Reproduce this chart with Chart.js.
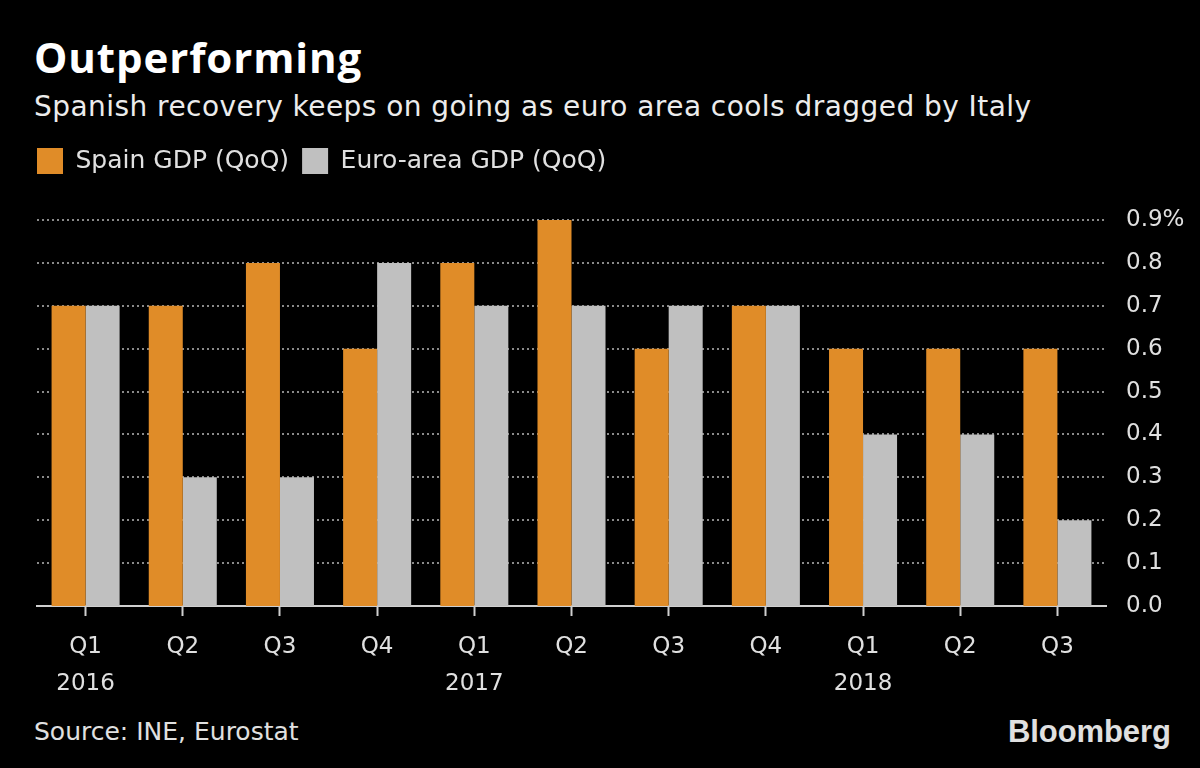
<!DOCTYPE html>
<html>
<head>
<meta charset="utf-8">
<script src="https://cdn.jsdelivr.net/npm/chart.js@4/dist/chart.umd.min.js"></script>
<style>
  html, body { margin: 0; padding: 0; background: #000; }
  body { width: 1200px; height: 768px; position: relative; overflow: hidden; font-family: "DejaVu Sans", sans-serif; color: #e6e6e6; }
  #title { position: absolute; left: 34px; top: 28px; font-family: "Open Sans", sans-serif; font-size: 42px; font-weight: 700; color: #fff; letter-spacing: 0.9px; }
  #subtitle { position: absolute; left: 34px; top: 90px; font-size: 28px; letter-spacing: 0.45px; color: #ececec; }
  #source { position: absolute; left: 34px; top: 717px; font-size: 25px; color: #e0e0e0; }
  #logo { position: absolute; left: 1008px; top: 714px; font-family: "Liberation Sans", Arial, sans-serif; font-weight: 700; font-size: 31px; letter-spacing: -0.1px; color: #e0e0e0; }
  #chartBox { position: absolute; left: 0; top: 0; width: 1200px; height: 768px; }
</style>
</head>
<body>
<div id="title">Outperforming</div>
<div id="subtitle">Spanish recovery keeps on going as euro area cools dragged by Italy</div>
<div id="source">Source: INE, Eurostat</div>
<div id="logo">Bloomberg</div>
<div id="chartBox"><canvas id="myChart" width="1200" height="768"></canvas></div>
<script>
const quarters = ['Q1', 'Q2', 'Q3', 'Q4', 'Q1', 'Q2', 'Q3', 'Q4', 'Q1', 'Q2', 'Q3'];
const years = ['2016', '', '', '', '2017', '', '', '', '2018', '', ''];
const spainGdp = [0.7, 0.7, 0.8, 0.6, 0.8, 0.9, 0.6, 0.7, 0.6, 0.6, 0.6];
const euroGdp = [0.7, 0.3, 0.3, 0.8, 0.7, 0.7, 0.7, 0.7, 0.4, 0.4, 0.2];
const yTicks = [0, 0.1, 0.2, 0.3, 0.4, 0.5, 0.6, 0.7, 0.8, 0.9];

const labels = quarters.map((q, i) => years[i] ? [q, years[i]] : [q]);

// Stretch the legend box so the plot starts lower, like the original
const legendSpacer = {
    id: 'legendSpacer',
    beforeUpdate(chart) {
        const lg = chart.legend;
        if (lg && !lg._spaced) {
            const fit = lg.fit;
            lg.fit = function () {
                fit.call(this);
                this.height = 85;
            };
            lg._spaced = true;
        }
    }
};

const ctx = document.getElementById('myChart').getContext('2d');

const myChart = new Chart(ctx, {
    type: 'bar',
    data: {
        labels: labels,
        datasets: [{
            label: 'Spain GDP (QoQ)',
            data: spainGdp,
            backgroundColor: '#e08c28'
        }, {
            label: 'Euro-area GDP (QoQ)',
            data: euroGdp,
            backgroundColor: '#c0c0c0'
        }]
    },
    plugins: [legendSpacer],
    options: {
        responsive: false,
        animation: false,
        layout: {
            padding: { left: 24, right: 0, top: 135, bottom: 0 }
        },
        datasets: {
            bar: { categoryPercentage: 0.7, barPercentage: 1.0 }
        },
        plugins: {
            legend: {
                display: true,
                align: 'start',
                labels: {
                    color: '#e0e0e0',
                    font: { family: 'DejaVu Sans', size: 25 },
                    boxWidth: 26,
                    boxHeight: 26,
                    padding: 13
                }
            },
            tooltip: { enabled: false }
        },
        scales: {
            x: {
                grid: {
                    offset: false,
                    drawOnChartArea: false,
                    drawTicks: true,
                    tickLength: 10,
                    tickColor: '#cfcfcf',
                    tickWidth: 2
                },
                border: { display: true, color: '#cfcfcf', width: 2 },
                ticks: {
                    color: '#e0e0e0',
                    font: { family: 'DejaVu Sans', size: 23, lineHeight: 1.6 },
                    padding: 13,
                    maxRotation: 0,
                    autoSkip: false
                },
                afterFit: (scale) => { scale.height = 162; }
            },
            // empty axis on the left, only to hold the plot 13px in from the legend edge
            gutter: {
                type: 'linear',
                position: 'left',
                display: true,
                grid: { display: false },
                border: { display: false },
                ticks: { display: false },
                afterFit: (scale) => { scale.width = 13; }
            },
            y: {
                position: 'right',
                min: 0,
                max: 0.9,
                afterBuildTicks: (scale) => { scale.ticks = yTicks.map(v => ({ value: v })); },
                grid: {
                    color: '#8a8a8a',
                    lineWidth: 2,
                    drawTicks: false
                },
                border: { display: false, dash: [2, 3] },
                ticks: {
                    color: '#e0e0e0',
                    font: { family: 'DejaVu Sans', size: 23 },
                    padding: 20,
                    callback: (v) => v === 0.9 ? v.toFixed(1) + '%' : v.toFixed(1)
                },
                afterFit: (scale) => { scale.width = 94; }
            }
        }
    }
});
</script>
</body>
</html>
